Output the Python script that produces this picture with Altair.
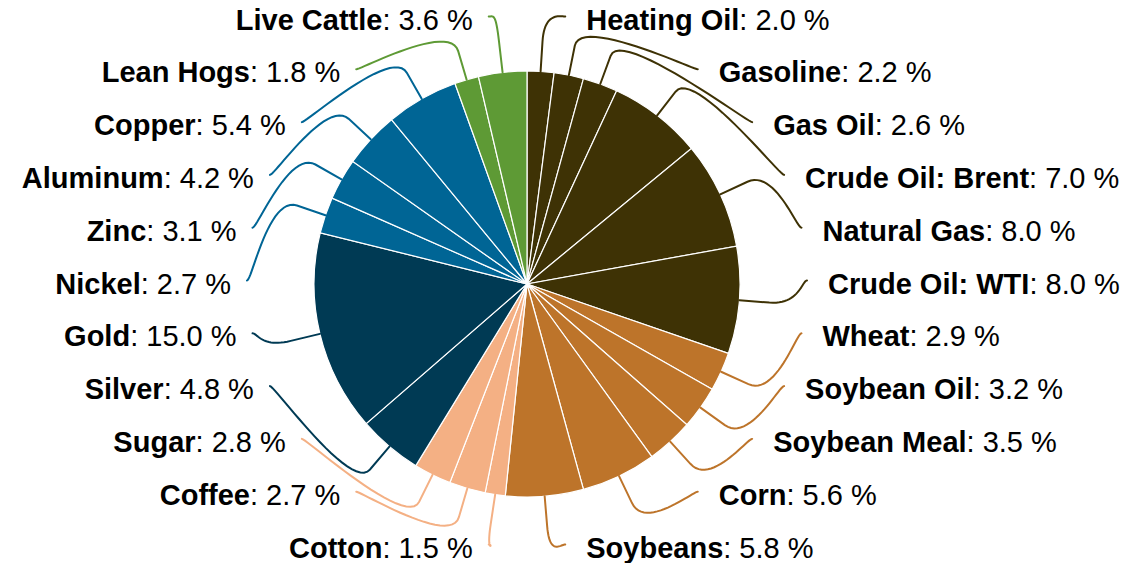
import math
import altair as alt
import pandas as pd

# ---------------- data ----------------
names = ["Heating Oil", "Gasoline", "Gas Oil", "Crude Oil: Brent", "Natural Gas", "Crude Oil: WTI",
         "Wheat", "Soybean Oil", "Soybean Meal", "Corn", "Soybeans",
         "Cotton", "Coffee", "Sugar",
         "Silver", "Gold",
         "Nickel", "Zinc", "Aluminum", "Copper",
         "Lean Hogs", "Live Cattle"]
weights = [2.0, 2.2, 2.6, 7.0, 8.0, 8.0,
           2.9, 3.2, 3.5, 5.6, 5.8,
           1.5, 2.7, 2.8,
           4.8, 15.0,
           2.7, 3.1, 4.2, 5.4,
           1.8, 3.6]
groups = (["Energy"] * 6 + ["Grains"] * 5 + ["Softs"] * 3 +
          ["Precious Metals"] * 2 + ["Industrial Metals"] * 4 + ["Livestock"] * 2)
group_names = ["Energy", "Grains", "Softs", "Precious Metals", "Industrial Metals", "Livestock"]
group_colors = ["#3e3205", "#bd742a", "#f4b084", "#003a54", "#006595", "#5e9a35"]

# ---------------- layout (page pixel coordinates) ----------------
W, H = 1112, 555
CX, CY, R = 527, 284, 213
BREAK = 30             # connector break distance outside the pie
LR_X, LR_Y = 280, 266.5  # ellipse on which label anchors sit
SLOT_TOP, SLOT_STEP = 16.5, 52.8
LCY = SLOT_TOP + SLOT_STEP * 5
GAP_R, GAP_L = 21, 16
FS = 29
FONT = "Liberation Sans"

bold_w = {" ": 278, ":": 333, "A": 722, "B": 722, "C": 722, "G": 778, "H": 722, "I": 278, "L": 611,
          "M": 833, "N": 722, "O": 778, "S": 667, "T": 611, "W": 944, "Z": 611,
          "a": 556, "b": 611, "c": 556, "d": 611, "e": 556, "f": 333, "g": 611, "h": 611, "i": 278,
          "k": 556, "l": 278, "m": 889, "n": 611, "o": 611, "p": 611, "r": 389, "s": 556, "t": 333,
          "u": 611, "v": 556, "y": 556}
reg_w = {" ": 278, ":": 278, ".": 278, "%": 889}
for d in "0123456789":
    reg_w[d] = 556


def text_w(s, table):
    return sum(table.get(c, 556) for c in s) * FS / 1000.0


color_of = dict(zip(group_names, group_colors))
total = sum(weights)

slices, names_rows, vals_rows, lines = [], [], [], []
cum = 0.0
n = len(names)
for i, (nm, w, g) in enumerate(zip(names, weights, groups)):
    col = color_of[g]
    mid = (cum + w / 2) / total * 2 * math.pi
    cum += w
    slices.append({"name": nm, "weight": w, "col": col, "idx": i})

    right = i <= 10
    slot = i if right else (n - 1 - i)
    ly = SLOT_TOP + SLOT_STEP * slot
    dy = ly - LCY
    dx = LR_X * math.sqrt(max(0.0, 1 - (dy / LR_Y) ** 2))
    lx = CX + dx if right else CX - dx

    val = f": {w:.1f} %"
    if right:
        nx = lx + GAP_R
        vx = nx + text_w(nm, bold_w)
        names_rows.append({"x": nx, "y": ly, "t": nm, "side": "L"})
        vals_rows.append({"x": vx, "y": ly, "t": val, "side": "L"})
    else:
        vx = lx - GAP_L
        nx = vx - text_w(val, reg_w)
        names_rows.append({"x": nx, "y": ly, "t": nm, "side": "R"})
        vals_rows.append({"x": vx, "y": ly, "t": val, "side": "R"})

    # connector: soft curve from label to break point, then straight to slice
    tx, ty = CX + R * math.sin(mid), CY - R * math.cos(mid)
    bx, by = CX + (R + BREAK) * math.sin(mid), CY - (R + BREAK) * math.cos(mid)
    c1x, c1y = (lx - 5 if right else lx + 5), ly
    c2x, c2y = 2 * bx - tx, 2 * by - ty
    pts = []
    steps = 24
    for k in range(steps + 1):
        u = k / steps
        a, b, c, d = (1 - u) ** 3, 3 * (1 - u) ** 2 * u, 3 * (1 - u) * u ** 2, u ** 3
        pts.append((a * lx + b * c1x + c * c2x + d * bx, a * ly + b * c1y + c * c2y + d * by))
    pts.append((tx, ty))
    for s, (px, py) in enumerate(pts):
        lines.append({"name": nm, "seq": s, "x": px, "y": py, "col": col})

df_slices = pd.DataFrame(slices)
df_names = pd.DataFrame(names_rows)
df_vals = pd.DataFrame(vals_rows)
df_lines = pd.DataFrame(lines)

xs = alt.Scale(domain=[8, 8 + W])
ys = alt.Scale(domain=[8, 8 + H], reverse=True)
X = lambda: alt.X("x:Q", scale=xs, axis=None)
Y = lambda: alt.Y("y:Q", scale=ys, axis=None)

pie = alt.Chart(df_slices).mark_arc(outerRadius=R, stroke="white", strokeWidth=1.2).encode(
    theta=alt.Theta("weight:Q", stack=True),
    order=alt.Order("idx:Q"),
    color=alt.Color("col:N", scale=None, legend=None),
    x=alt.value(CX - 8),
    y=alt.value(CY - 8),
)

conn = alt.Chart(df_lines).mark_line(strokeWidth=2, strokeCap="round").encode(
    x=X(), y=Y(),
    detail="name:N",
    order="seq:Q",
    color=alt.Color("col:N", scale=None, legend=None),
)


def text_layer(df, bold, align):
    return alt.Chart(df).mark_text(
        align=align, baseline="alphabetic", dy=13, font=FONT, fontSize=FS,
        fontWeight="bold" if bold else "normal", color="#000000"
    ).encode(x=X(), y=Y(), text="t:N")


layers = [pie, conn,
          text_layer(df_names[df_names.side == "L"], True, "left"),
          text_layer(df_names[df_names.side == "R"], True, "right"),
          text_layer(df_vals[df_vals.side == "L"], False, "left"),
          text_layer(df_vals[df_vals.side == "R"], False, "right")]

chart = alt.layer(*layers).properties(
    width=W, height=H, padding=0, autosize=alt.AutoSizeParams(type="none")
).configure_view(stroke=None)

chart.save("out.html", embed_options={"renderer": "svg", "actions": False})
